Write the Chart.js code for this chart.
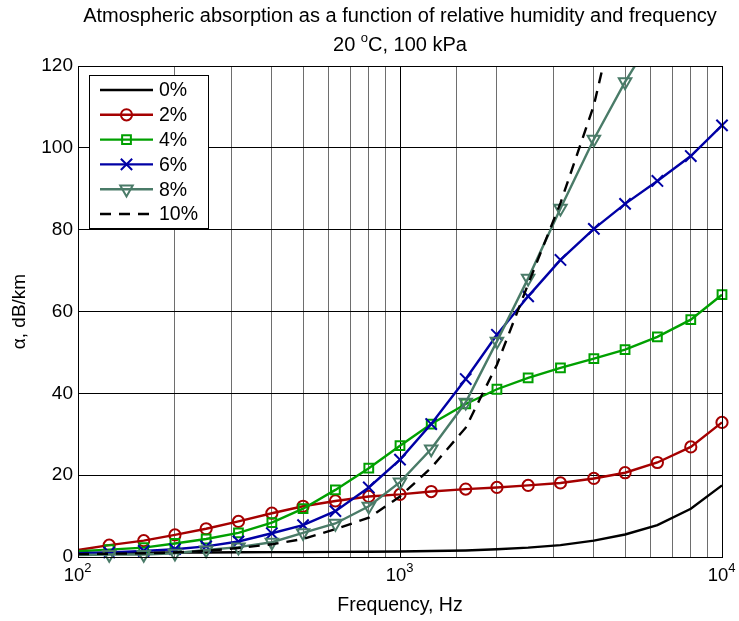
<!DOCTYPE html>
<html>
<head>
<meta charset="utf-8">
<script src="https://cdn.jsdelivr.net/npm/chart.js@4"></script>
<style>
  body { margin: 0; background: #fff; }
  canvas { display: block; }
</style>
</head>
<body>
<canvas id="absChart" width="739" height="621"></canvas>
<script>
// 1/3 octave band centre frequencies, Hz
const freqs = [100, 125, 160, 200, 250, 315, 400, 500, 630, 800, 1000, 1250, 1600, 2000, 2500, 3150, 4000, 5000, 6300, 8000, 10000];

// absorption in dB/km for each relative humidity
const rh0 = [0.9, 1.0, 1.05, 1.1, 1.1, 1.15, 1.2, 1.2, 1.25, 1.3, 1.35, 1.45, 1.6, 1.9, 2.3, 2.9, 4.0, 5.5, 7.8, 11.8, 17.5];
const rh2 = [1.7, 2.9, 4.0, 5.4, 6.9, 8.7, 10.7, 12.4, 13.7, 14.8, 15.3, 16.0, 16.6, 17.0, 17.5, 18.1, 19.2, 20.6, 23.1, 26.9, 32.9];
const rh4 = [1.4, 1.8, 2.3, 3.3, 4.4, 5.9, 8.4, 11.8, 16.4, 21.7, 27.2, 32.5, 37.4, 41.0, 43.8, 46.2, 48.5, 50.7, 53.8, 58.0, 64.1];
const rh6 = [0.9, 1.1, 1.5, 1.9, 2.6, 3.8, 5.8, 7.8, 11.2, 17.0, 23.8, 32.5, 43.5, 54.3, 63.7, 72.6, 80.2, 86.3, 91.9, 98.0, 105.5];
const rh8 = [0.5, 0.6, 0.6, 0.9, 1.7, 2.4, 3.6, 5.9, 8.2, 12.4, 18.3, 26.4, 37.8, 52.7, 68.1, 85.2, 102.1, 116.1, 129, 146, 162];
const rh10 = [0.7, 0.8, 0.9, 1.1, 1.5, 2.2, 3.1, 4.4, 6.8, 9.6, 14.8, 21.8, 31.6, 47.0, 66.7, 86.5, 110.4, 143, 170, 200, 230];

const labels = ['0%', '2%', '4%', '6%', '8%', '10%'];
const titleLines = ['Atmospheric absorption as a function of relative humidity and frequency', '20 ', 'o', 'C, 100 kPa'];

const FONT = '"Liberation Sans", Arial, Helvetica, sans-serif';

const toXY = (vals) => vals.map((v, i) => ({x: freqs[i], y: v}));
// no marker on the 100 Hz point
const markerRadius = (r) => freqs.map((f, i) => (i === 0 ? 0 : r));

const isDecade = (v) => {
    const e = Math.log10(v);
    return Math.abs(e - Math.round(e)) < 1e-6;
};

function series(label, vals, color, style, order) {
    return Object.assign({
        label: label,
        data: toXY(vals),
        borderColor: color,
        backgroundColor: 'rgba(0,0,0,0)',
        borderWidth: 2.4,
        pointBorderWidth: 2,
        pointBorderColor: color,
        pointBackgroundColor: 'rgba(0,0,0,0)',
        tension: 0,
        order: order,
        clip: {left: 0, top: 0, right: 12, bottom: 12}
    }, style);
}

const datasets = [
    series(labels[0], rh0, '#000000', {pointRadius: 0}, 5),
    series(labels[1], rh2, '#a50000', {pointStyle: 'circle', pointRadius: markerRadius(5.6)}, 4),
    series(labels[2], rh4, '#00a000', {pointStyle: 'rect', pointRadius: markerRadius(6.2)}, 3),
    series(labels[3], rh6, '#0000a5', {pointStyle: 'crossRot', pointRadius: markerRadius(8)}, 2),
    series(labels[4], rh8, '#4a7b68', {pointStyle: 'triangle', pointRotation: 180, pointRadius: markerRadius(7.2)}, 1),
    series(labels[5], rh10, '#000000', {pointRadius: 0, borderDash: [11, 8]}, 0)
];

// box round the plot, title, and the 10^n labels
const framePlugin = {
    id: 'frame',
    afterDraw(chart) {
        const {ctx, chartArea: a} = chart;
        ctx.save();
        ctx.strokeStyle = '#000';
        ctx.lineWidth = 1;
        ctx.strokeRect(a.left + 0.5, a.top + 0.5, a.right - a.left, a.bottom - a.top);
        ctx.fillStyle = '#000';
        ctx.textBaseline = 'middle';
        const cx = (a.left + a.right) / 2;
        ctx.font = '20px ' + FONT;
        ctx.textAlign = 'center';
        ctx.fillText(titleLines[0], cx, 16);
        // second line with raised degree "o"
        ctx.textAlign = 'left';
        const w1 = ctx.measureText(titleLines[1]).width;
        const w3 = ctx.measureText(titleLines[3]).width;
        ctx.font = '13px ' + FONT;
        const w2 = ctx.measureText(titleLines[2]).width;
        let x = cx - (w1 + w2 + w3) / 2;
        ctx.font = '20px ' + FONT;
        ctx.fillText(titleLines[1], x, 45);
        ctx.font = '13px ' + FONT;
        ctx.fillText(titleLines[2], x + w1, 38);
        ctx.font = '20px ' + FONT;
        ctx.fillText(titleLines[3], x + w1 + w2, 45);

        // x tick labels 10^n
        const xs = chart.scales.x;
        xs.ticks.filter(t => isDecade(t.value)).forEach(t => {
            const px = xs.getPixelForValue(t.value);
            const exp = String(Math.round(Math.log10(t.value)));
            ctx.font = '18.5px ' + FONT;
            ctx.textAlign = 'center';
            ctx.fillText('10', px - 4, 576);
            const wb = ctx.measureText('10').width;
            ctx.font = '13px ' + FONT;
            ctx.textAlign = 'left';
            ctx.fillText(exp, px - 4 + wb / 2, 568);
        });
        ctx.restore();
    }
};

// legend box inside the top-left corner
const legendPlugin = {
    id: 'innerLegend',
    afterDraw(chart) {
        const {ctx, chartArea: a} = chart;
        const x0 = a.left + 11, y0 = a.top + 9;
        const w = 119, h = 153, row = 24.8;
        ctx.save();
        ctx.fillStyle = '#fff';
        ctx.fillRect(x0, y0, w, h);
        ctx.strokeStyle = '#000';
        ctx.lineWidth = 1;
        ctx.strokeRect(x0 + 0.5, y0 + 0.5, w, h);
        chart.data.datasets.forEach((ds, i) => {
            const y = y0 + 15 + i * row;
            const lx0 = x0 + 11, lx1 = x0 + 64;
            ctx.save();
            ctx.strokeStyle = ds.borderColor;
            ctx.lineWidth = ds.borderWidth;
            ctx.setLineDash(ds.borderDash || []);
            ctx.beginPath();
            ctx.moveTo(lx0, y);
            ctx.lineTo(lx1, y);
            ctx.stroke();
            ctx.restore();
            if (ds.pointStyle) {
                ctx.save();
                ctx.strokeStyle = ds.pointBorderColor;
                ctx.fillStyle = 'rgba(0,0,0,0)';
                ctx.lineWidth = ds.pointBorderWidth;
                Chart.helpers.drawPoint(ctx, {
                    pointStyle: ds.pointStyle,
                    radius: ds.pointRadius[1],
                    rotation: ds.pointRotation || 0,
                    borderWidth: ds.pointBorderWidth
                }, (lx0 + lx1) / 2, y);
                ctx.restore();
            }
            ctx.fillStyle = '#000';
            ctx.font = '19.5px ' + FONT;
            ctx.textAlign = 'left';
            ctx.textBaseline = 'middle';
            ctx.fillText(ds.label, x0 + 70, y + 1);
        });
        ctx.restore();
    }
};

new Chart(document.getElementById('absChart'), {
    type: 'line',
    data: {datasets: datasets},
    plugins: [framePlugin, legendPlugin],
    options: {
        responsive: false,
        animation: false,
        layout: {padding: {top: 66, right: 17, bottom: 0, left: 0}},
        plugins: {
            legend: {display: false},
            title: {display: false},
            tooltip: {enabled: false}
        },
        scales: {
            x: {
                type: 'logarithmic',
                min: 100,
                max: 10000,
                afterFit: (scale) => {
                    scale.height = 64;
                    scale.paddingLeft = 0;
                    scale.paddingRight = 0;
                },
                border: {display: true, color: '#000', width: 1},
                grid: {
                    drawTicks: false,
                    color: (c) => (c.tick && isDecade(c.tick.value) ? '#000' : '#6e6e6e'),
                    lineWidth: 1
                },
                ticks: {
                    autoSkip: false,
                    maxRotation: 0,
                    padding: 12,
                    color: '#000',
                    font: {family: FONT, size: 18},
                    callback: () => ''
                },
                title: {
                    display: true,
                    text: 'Frequency, Hz',
                    color: '#000',
                    font: {family: FONT, size: 19.5},
                    padding: {top: 0, bottom: 4}
                }
            },
            y: {
                min: 0,
                max: 120,
                afterFit: (scale) => { scale.width = 78; },
                border: {display: true, color: '#000', width: 1},
                grid: {drawTicks: false, color: '#000', lineWidth: 1},
                ticks: {
                    stepSize: 20,
                    padding: 5,
                    color: '#000',
                    font: {family: FONT, size: 19}
                },
                title: {
                    display: true,
                    text: '\u03B1, dB/km',
                    color: '#000',
                    font: {family: FONT, size: 19},
                    padding: {top: 8, bottom: 0}
                }
            }
        }
    }
});
</script>
</body>
</html>
